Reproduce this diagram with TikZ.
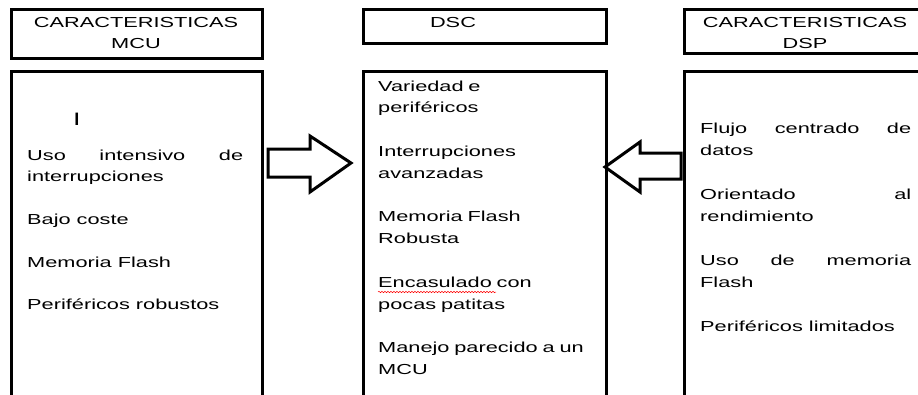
\documentclass[tikz,border=0pt]{standalone}
\usepackage{fontspec}
\setmainfont{Liberation Sans}[FakeStretch=1.5]
\usetikzlibrary{decorations.pathmorphing}

\tikzset{
	frame/.style = {draw, line width = 3.2pt, inner sep = 0pt, anchor = north west},
	headtext/.style = {inner sep = 0pt, anchor = base, align = center, font = \fontsize{14.5pt}{21pt}\selectfont},
	bodytext/.style = {inner sep = 0pt, anchor = base west, align = left, font = \fontsize{14.5pt}{#1}\selectfont},
	bodytext/.default = 21.8pt,
	blockarrow/.style = {line width = 3pt, miter limit = 10},
	spell/.style = {red, line width = 0.5pt, decorate, decoration = {snake, amplitude = 0.7pt, segment length = 3pt}}
}

\begin{document}
\begin{tikzpicture}[x = 1pt, y = -1pt]
	
	\useasboundingbox (0, 0) rectangle (918, 394);
	
	% cajas de titulo
	\node[frame, minimum width = 251pt, minimum height = 49pt] (mcuhead) at (10, 8) {};
	\node[frame, minimum width = 243pt, minimum height = 34pt] (dschead) at (362, 8) {};
	\node[frame, minimum width = 260pt, minimum height = 44pt] (dsphead) at (683, 8) {};
	
	\node[headtext, text width = 251pt] (mcuname) at (136, 27) {CARACTERISTICAS\\MCU};
	\node[headtext, text width = 100pt] (dscname) at (453, 27) {DSC};
	\node[headtext, text width = 230pt] (dspname) at (805, 27) {CARACTERISTICAS\\DSP};
	
	% cajas de contenido
	\node[frame, minimum width = 251pt, minimum height = 340pt] (mcubody) at (10, 70) {};
	\node[frame, minimum width = 243pt, minimum height = 340pt] (dscbody) at (362, 70) {};
	\node[frame, minimum width = 260pt, minimum height = 340pt] (dspbody) at (683, 70) {};
	
	\node[bodytext, font = \fontsize{18pt}{20pt}\selectfont] (cursor) at (73, 125) {I};
	
	\node[bodytext = 21.4pt, align = justify, text width = 216pt] (mculist) at (27, 160) {%
		Uso intensivo de\linebreak
		interrupciones\\[\baselineskip]
		Bajo coste\\[\baselineskip]
		Memoria Flash\\[\baselineskip]
		Periféricos robustos};
	
	\node[bodytext, text width = 220pt] (dsclist) at (378, 91) {%
		Variedad e\\
		periféricos\\[\baselineskip]
		Interrupciones\\
		avanzadas\\[\baselineskip]
		Memoria Flash\\
		Robusta\\[\baselineskip]
		Encasulado con\\
		pocas patitas\\[\baselineskip]
		Manejo parecido a un\\
		MCU};
	
	\node[bodytext = 22pt, align = justify, text width = 211pt] (dsplist) at (700, 133) {%
		Flujo centrado de\linebreak
		datos\\[\baselineskip]
		Orientado al\linebreak
		rendimiento\\[\baselineskip]
		Uso de memoria\linebreak
		Flash\\[\baselineskip]
		Periféricos limitados};
	
	\draw[spell] (378, 292) to (496, 292);
	
	% flechas de bloque
	\draw[blockarrow] (268, 149) -- (310, 149) -- (310, 136) -- (351, 163) -- (310, 192) -- (310, 177) -- (268, 177) -- cycle;
	\draw[blockarrow] (681, 153) -- (640, 153) -- (640, 142) -- (605, 167) -- (640, 192) -- (640, 179) -- (681, 179) -- cycle;
	
\end{tikzpicture}
\end{document}
